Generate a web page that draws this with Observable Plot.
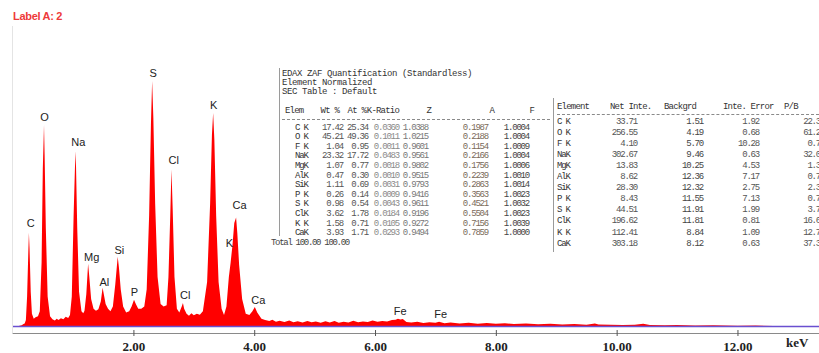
<!DOCTYPE html>
<html><head><meta charset="utf-8">
<script src="https://cdn.jsdelivr.net/npm/d3@7"></script>
<script src="https://cdn.jsdelivr.net/npm/@observablehq/plot@0.6"></script>
<style>
body{margin:0;background:#fff;}
#wrap{position:relative;width:819px;height:353px;overflow:hidden;background:#fff;}
#wrap svg{position:absolute;left:0;top:0;}
.t{position:absolute;white-space:pre;font-family:"Liberation Mono",monospace;font-size:9px;letter-spacing:-1.2px;line-height:9px;color:#555;}
</style></head>
<body><div id="wrap"></div>
<script>
// spectrum (keV, counts)
const energy = [0.00,0.10,0.15,0.18,0.20,0.22,0.24,0.26,0.27,0.28,0.30,0.32,0.35,0.38,0.42,0.45,0.48,0.50,0.52,0.53,0.55,0.58,0.62,0.66,0.70,0.73,0.76,0.80,0.84,0.88,0.92,0.95,0.98,1.01,1.04,1.05,1.07,1.10,1.14,1.17,1.19,1.22,1.25,1.27,1.30,1.34,1.38,1.42,1.46,1.49,1.51,1.54,1.58,1.62,1.66,1.70,1.74,1.76,1.79,1.83,1.88,1.93,1.97,2.01,2.04,2.08,2.13,2.18,2.22,2.26,2.29,2.31,2.33,2.36,2.40,2.45,2.50,2.55,2.58,2.61,2.63,2.65,2.68,2.72,2.76,2.80,2.82,2.84,2.88,2.92,2.96,3.00,3.05,3.10,3.15,3.22,3.27,3.30,3.32,3.34,3.37,3.41,3.46,3.50,3.54,3.58,3.61,3.64,3.67,3.70,3.72,3.75,3.80,3.86,3.92,3.97,4.01,4.05,4.12,4.18,4.25,4.30,4.36,4.42,4.50,4.58,4.65,4.72,4.80,4.88,4.95,5.02,5.10,5.18,5.25,5.33,5.40,5.48,5.56,5.64,5.72,5.80,5.88,5.96,6.04,6.12,6.20,6.28,6.34,6.38,6.42,6.46,6.52,6.60,6.70,6.80,6.90,7.00,7.06,7.15,7.25,7.40,7.55,7.70,7.85,8.00,8.15,8.30,8.50,8.70,8.90,9.10,9.30,9.50,9.64,9.70,9.90,10.10,10.30,10.44,10.55,10.80,11.00,11.30,11.60,12.00,12.30,12.60,12.70];
const counts = [0,0,3,8,10,25,120,300,381,320,140,50,30,36,40,60,260,640,820,700,400,120,40,28,22,30,24,32,28,38,33,45,120,450,713,650,400,140,60,52,62,130,254,200,110,70,62,68,100,156,130,90,70,60,80,170,283,240,150,80,55,60,80,107,90,70,70,80,150,450,820,1000,850,500,200,90,80,85,200,450,639,480,200,70,55,80,94,70,50,42,52,44,50,46,60,180,500,780,869,760,450,180,70,45,80,200,260,330,420,443,380,250,110,50,45,60,78,55,30,24,20,26,17,21,16,22,15,19,14,20,15,18,13,19,14,20,13,17,14,21,15,18,16,22,17,20,18,24,26,30,27,29,16,14,17,12,15,13,17,11,14,10,13,9,12,9,11,8,10,7,9,6,8,5,10,6,5,4,5,9,4,3,4,2,3,1,2,0.5,0];

// peak labels
const peakNames = ["C","O","Na","Mg","Al","Si","P","S","Cl","Cl","K","K","Ca","Ca","Fe","Fe"];
const peakE = [0.29,0.52,1.08,1.30,1.51,1.76,2.01,2.32,2.66,2.85,3.32,3.58,3.75,4.06,6.41,7.08];
const peakLabelY = [422,852,750,283,180,311,139,1033,676,127,902,340,492,107,61,49];

const xTicks = [2,4,6,8,10,12];

// quantification table
const title = ["EDAX ZAF Quantification (Standardless)","Element Normalized","SEC Table : Default"];
const elems = ["C K","O K","F K","NaK","MgK","AlK","SiK","P K","S K","ClK","K K","CaK"];
const wt = ["17.42","45.21","1.04","23.32","1.07","0.47","1.11","0.26","0.98","3.62","1.58","3.93"];
const at = ["25.34","49.36","0.95","17.72","0.77","0.30","0.69","0.14","0.54","1.78","0.71","1.71"];
const kratio = ["0.0360","0.1011","0.0011","0.0483","0.0018","0.0010","0.0031","0.0009","0.0043","0.0184","0.0105","0.0293"];
const zCol = ["1.0388","1.0215","0.9601","0.9561","0.9802","0.9515","0.9793","0.9416","0.9611","0.9196","0.9272","0.9494"];
const aCol = ["0.1987","0.2188","0.1154","0.2166","0.1756","0.2239","0.2863","0.3563","0.4521","0.5504","0.7156","0.7859"];
const fCol = ["1.0004","1.0004","1.0009","1.0004","1.0006","1.0010","1.0014","1.0023","1.0032","1.0023","1.0039","1.0000"];
const totals = ["100.00","100.00"];
const netInt = ["33.71","256.55","4.10","302.67","13.83","8.62","28.30","8.43","44.51","196.62","112.41","303.18"];
const backgrd = ["1.51","4.19","5.70","9.46","10.25","12.36","12.32","11.55","11.91","11.81","8.84","8.12"];
const intErr = ["1.92","0.68","10.28","0.63","4.53","7.17","2.75","7.13","1.99","0.81","1.09","0.63"];
const pb = ["22.3","61.2","0.7","32.0","1.3","0.7","2.3","0.7","3.7","16.6","12.7","37.3"];

const spectrum = energy.map((e,i)=>({e, c: counts[i]}));
const peaks = peakNames.map((n,i)=>({n, e: peakE[i], y: peakLabelY[i]}));

const chart = Plot.plot({
  width: 819, height: 353,
  marginLeft: 12.6, marginRight: 0, marginTop: 81, marginBottom: 27,
  x: {domain: [0, 13.35]},
  y: {domain: [0, 1000], axis: null},
  style: {background: "transparent", overflow: "visible"},
  marks: [
    Plot.areaY(spectrum, {x: "e", y: "c", fill: "#ff0000", curve: "linear"}),
    Plot.ruleY([0], {stroke: "#6a4fd0", strokeWidth: 1.3}),
    Plot.ruleY([0], {stroke: "#8a8a8a", dy: 7}),
    Plot.axisX({ticks: xTicks, tickFormat: d => d.toFixed(2), tickSize: 6, dy: 4, tickPadding: 5,
      fontFamily: "Liberation Serif", fontWeight: "bold", fontSize: 13, fill: "#222", stroke: "#555", label: null}),
    Plot.text(peaks, {x: "e", y: "y", text: "n", fontSize: 11, fontFamily: "Liberation Sans", fill: "#222"}),
    Plot.text(["keV"], {frameAnchor: "bottom-right", dx: -11, dy: 20, text: d => d,
      fontFamily: "Liberation Serif", fontWeight: "bold", fontSize: 13, fill: "#222"})
  ]
});
const wrap = document.getElementById("wrap");
wrap.appendChild(chart);

function put(txt, x, y, anchor, extra) {
  const s = document.createElement("div");
  s.className = "t";
  s.textContent = txt;
  if (anchor === "right") s.style.right = (819 - x) + "px"; else s.style.left = x + "px";
  s.style.top = (y - 4.5) + "px";
  if (extra) Object.assign(s.style, extra);
  wrap.appendChild(s);
}
function vline(x, y1, y2) {
  const d = document.createElement("div");
  Object.assign(d.style, {position: "absolute", left: x + "px", top: y1 + "px", width: "1px", height: (y2 - y1) + "px", background: "#9a9a9a"});
  wrap.appendChild(d);
}
function dashes(x1, x2, y) {
  const d = document.createElement("div");
  Object.assign(d.style, {position: "absolute", left: x1 + "px", top: y + "px", width: (x2 - x1) + "px", height: "0px", borderTop: "1px dashed #8a8a8a"});
  wrap.appendChild(d);
}

// panel left edge and label
const edge = document.createElement("div");
Object.assign(edge.style, {position: "absolute", left: "12px", top: "26px", width: "1px", height: "307px", background: "#e4e4e4"});
wrap.appendChild(edge);
const lab = document.createElement("div");
lab.textContent = "Label A: 2";
Object.assign(lab.style, {position: "absolute", left: "13px", top: "10px", font: "bold 11px 'Liberation Sans', Arial, sans-serif", color: "#ee3a3a", letterSpacing: "-0.3px"});
wrap.appendChild(lab);

// left table
vline(279, 68, 236);
const dark = {color: "#333"};
const hdr = {color: "#333", letterSpacing: "-0.8px"};
title.forEach((t, i) => put(t, 282, 74 + i * 9, "left", {letterSpacing: "-0.4px", color: "#333"}));
put("Elem", 285, 111, "left", hdr);
put("Wt %", 339, 111, "right", hdr);
put("At %", 366, 111, "right", hdr);
put("K-Ratio", 399, 111, "right", hdr);
put("Z", 431, 111, "right", hdr);
put("A", 494, 111, "right", hdr);
put("F", 534, 111, "right", hdr);
dashes(282, 550, 119);
elems.forEach((el, i) => {
  const y = 128 + i * 9.6;
  put(el, 295, y, "left", dark);
  put(wt[i], 343, y, "right");
  put(at[i], 368, y, "right");
  put(kratio[i], 399, y, "right", {color: "#8a8a8a"});
  put(zCol[i], 428, y, "right", {color: "#777"});
  put(aCol[i], 488, y, "right", {color: "#7a6a5a"});
  put(fCol[i], 529, y, "right", {color: "#444"});
});
put("Total " + totals.join(" "), 271, 243, "left", {color: "#444", letterSpacing: "-1.3px"});

// right table
vline(553, 98, 252);
put("Element", 557, 107, "left", hdr);
put("Net Inte.", 610, 107, "left", hdr);
put("Backgrd", 664, 107, "left", hdr);
put("Inte. Error", 723, 107, "left", hdr);
put("P/B", 784, 107, "left", hdr);
dashes(557, 819, 114);
elems.forEach((el, i) => {
  const y = 122 + i * 11.1;
  put(el, 557, y, "left", dark);
  put(netInt[i], 637, y, "right");
  put(backgrd[i], 703, y, "right", {color: "#444"});
  put(intErr[i], 759, y, "right");
  put(pb[i], 820, y, "right");
});
</script></body></html>
